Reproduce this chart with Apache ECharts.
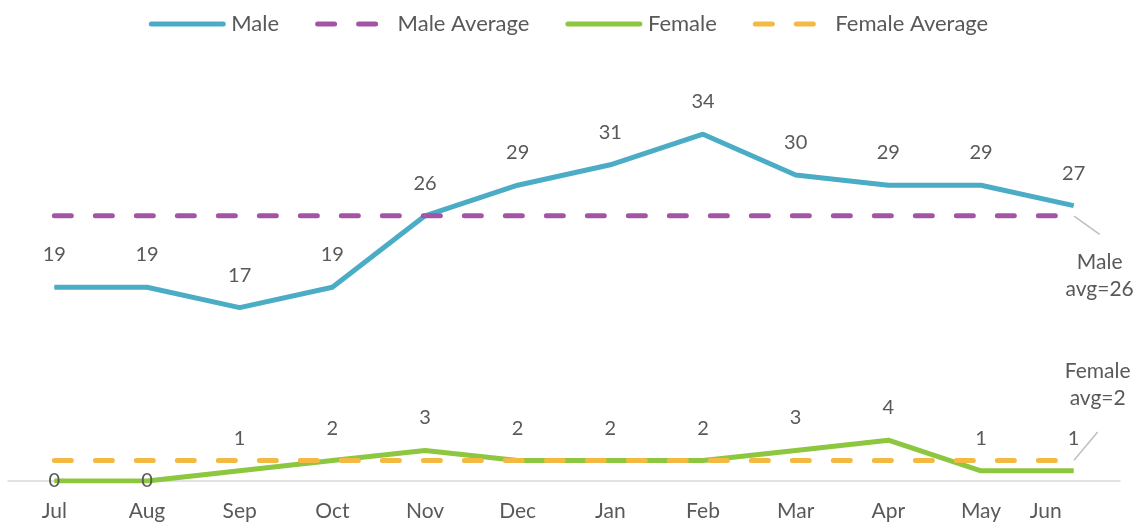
<!DOCTYPE html>
<html><head><meta charset="utf-8">
<script src="https://cdn.jsdelivr.net/npm/echarts@6/dist/echarts.min.js"></script>
<style>html,body{margin:0;padding:0;background:#fff}#c{width:1137px;height:523px}</style>
</head><body><div id="c"></div>
<script>
const categories = ['Jul','Aug','Sep','Oct','Nov','Dec','Jan','Feb','Mar','Apr','May','Jun'];
const maleValues = [19,19,17,19,26,29,31,34,30,29,29,27];
const femaleValues = [0,0,1,2,3,2,2,2,3,4,1,1];
const maleAverage = [26,26,26,26,26,26,26,26,26,26,26,26];
const femaleAverage = [2,2,2,2,2,2,2,2,2,2,2,2];
const maleAvgLabel = 'Male\navg=26';
const femaleAvgLabel = 'Female\navg=2';

const FONT = 'Lato';
const GREY = '#595959';
const dash = [17, 24];
const LAST = categories.length - 1;
const CLEAR = 'rgba(0,0,0,0)';

const chart = echarts.init(document.getElementById('c'), null, {renderer:'canvas'});
function valLabel(vals){
  return vals.map(v => v === 0
    ? {value: v, label: {position: 'inside', distance: 0}}
    : v);
}
function avgData(vals, text){
  return vals.map((v, i) => i === LAST
    ? {value: v, label: {show: true, formatter: text}, labelLine: {show: true}}
    : v);
}
function moveLast(dx, dy){
  return p => p.dataIndex === LAST ? {dx: dx, dy: dy} : {};
}
chart.setOption({
  animation: false,
  textStyle: {fontFamily: FONT},
  legend: {
    top: 8, left: 'center', itemWidth: 72, itemHeight: 14, itemGap: 36,
    textStyle: {fontFamily: FONT, fontSize: 22, color: GREY, padding: [0, 0, 0, 3]},
    itemStyle: {opacity: 0},
    lineStyle: {width: 5, cap: 'round'},
    data: ['Male','Male Average','Female','Female Average']
  },
  grid: {left: 8, right: 17, top: 73, bottom: 42, containLabel: false},
  xAxis: {
    type: 'category', data: categories.map((c, i) => i === LAST
      ? {value: c, textStyle: {padding: [0, 56, 0, 0]}} : c),
    boundaryGap: true,
    axisLine: {lineStyle: {color: '#d9d9d9', width: 1.5}},
    axisTick: {show: false},
    axisLabel: {fontFamily: FONT, fontSize: 21, color: GREY, margin: 20, interval: 0}
  },
  yAxis: {type: 'value', min: 0, max: 40, show: false, splitLine: {show: false}},
  series: [
    {name: 'Male', type: 'line', data: valLabel(maleValues), symbol: 'circle', symbolSize: 1,
     lineStyle: {color: '#4BACC6', width: 5}, itemStyle: {color: '#4BACC6'},
     label: {show: true, position: 'top', distance: 22, fontFamily: FONT, fontSize: 20, color: GREY}},
    {name: 'Male Average', type: 'line', data: avgData(maleAverage, maleAvgLabel), symbol: 'circle', symbolSize: 1,
     lineStyle: {color: '#A454A4', width: 5, type: dash, cap: 'round'}, itemStyle: {color: CLEAR},
     label: {show: false, position: 'bottom', distance: 5, fontFamily: FONT, fontSize: 21, color: GREY, lineHeight: 27,
       padding: [14, 0, 0, 0]},
     labelLine: {show: false, length2: 0, lineStyle: {color: '#bfbfbf', width: 1.5}},
     labelLayout: moveLast(26, 13)},
    {name: 'Female', type: 'line', data: valLabel(femaleValues), symbol: 'circle', symbolSize: 1,
     lineStyle: {color: '#8DC63F', width: 5}, itemStyle: {color: '#8DC63F'},
     label: {show: true, position: 'top', distance: 22, fontFamily: FONT, fontSize: 20, color: GREY}},
    {name: 'Female Average', type: 'line', data: avgData(femaleAverage, femaleAvgLabel), symbol: 'circle', symbolSize: 1,
     lineStyle: {color: '#F4B942', width: 5, type: dash, cap: 'round'}, itemStyle: {color: CLEAR},
     label: {show: false, position: 'top', distance: 5, fontFamily: FONT, fontSize: 21, color: GREY, lineHeight: 27,
       padding: [0, 0, 20, 0]},
     labelLine: {show: false, length2: 0, lineStyle: {color: '#bfbfbf', width: 1.5}},
     labelLayout: moveLast(24, -23)}
  ]
});
</script></body></html>
